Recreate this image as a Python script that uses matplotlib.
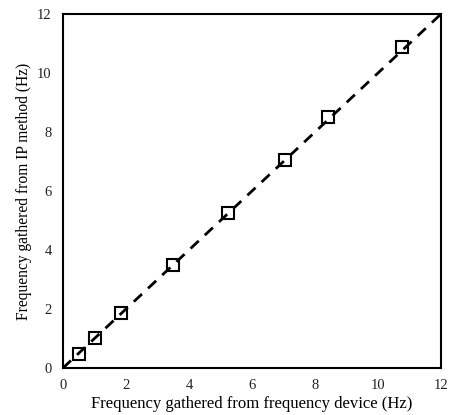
import matplotlib
matplotlib.use("Agg")
import matplotlib.pyplot as plt

x_device = [0.51, 1.02, 1.84, 3.49, 5.24, 7.05, 8.41, 10.76]
y_ip = [0.47, 1.02, 1.86, 3.49, 5.25, 7.05, 8.51, 10.88]
ref_line = [0, 12]
ticks = [0, 2, 4, 6, 8, 10, 12]

plt.rcParams['font.family'] = ['Liberation Serif', 'DejaVu Serif']

fig = plt.figure(figsize=(4.49, 4.15), dpi=100)
ax = fig.add_axes([0.140, 0.113, 0.842, 0.853])

ax.plot(ref_line, ref_line, color='black', linestyle=(0, (4, 3)), linewidth=2, zorder=3)
ax.plot(x_device, y_ip, linestyle='none', marker='s', markersize=8,
        markerfacecolor='none', markeredgecolor='black', markeredgewidth=1.5, zorder=2)

ax.set_xlim(0, 12)
ax.set_ylim(0, 12)
ax.set_xticks(ticks)
ax.set_yticks(ticks)
ax.tick_params(length=0, labelsize=10.5, pad=8, colors='#222222')
for s in ax.spines.values():
    s.set_linewidth(1.5)
ax.set_xlabel('Frequency gathered from frequency device (Hz)', fontsize=12, labelpad=3)
ax.set_ylabel('Frequency gathered from IP method (Hz)', fontsize=11.2, labelpad=4)

fig.savefig('out.png', dpi=100)
